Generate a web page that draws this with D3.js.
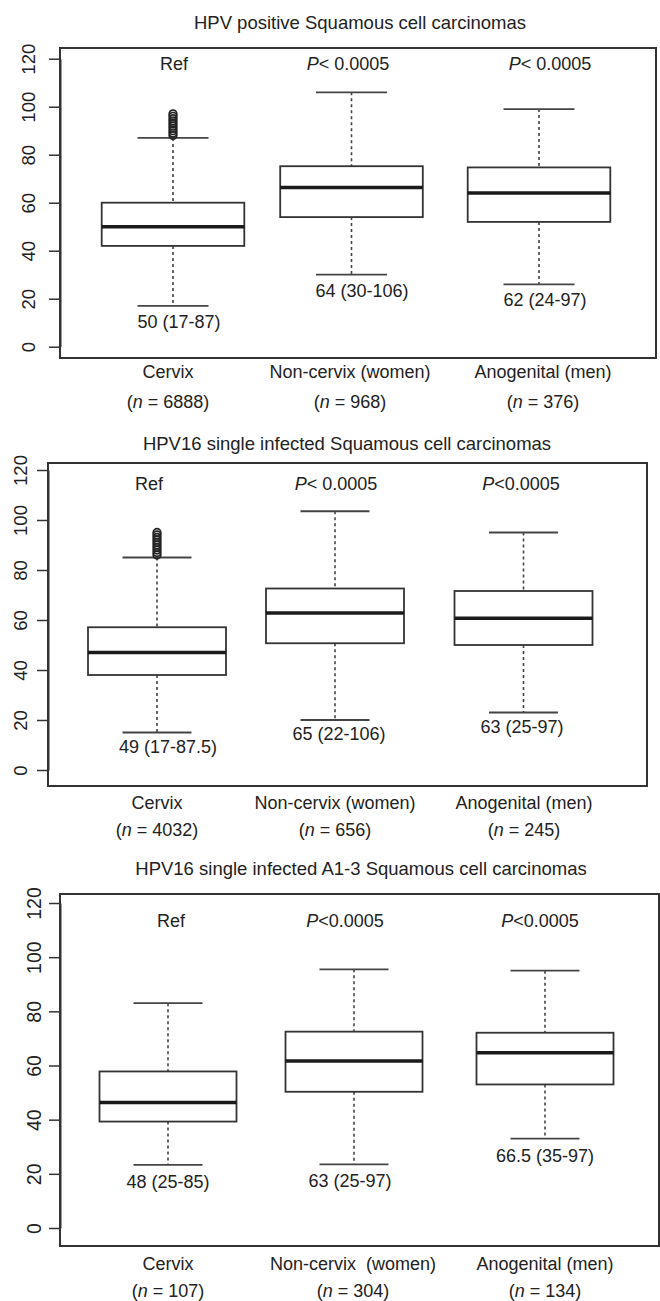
<!DOCTYPE html>
<html>
<head>
<meta charset="utf-8">
<script src="https://cdn.jsdelivr.net/npm/d3@7"></script>
<style>
  html, body { margin: 0; padding: 0; background: #fff; }
  svg text { font-family: "Liberation Sans", Arial, Helvetica, sans-serif; fill: #222; white-space: pre; }
</style>
</head>
<body>
<script>
// ---------------- DATA ----------------
const panelTitles = [
  "HPV positive Squamous cell carcinomas",
  "HPV16 single infected Squamous cell carcinomas",
  "HPV16 single infected A1-3 Squamous cell carcinomas"
];
const groupNames = [
  ["Cervix", "Non-cervix (women)", "Anogenital (men)"],
  ["Cervix", "Non-cervix (women)", "Anogenital (men)"],
  ["Cervix", "Non-cervix  (women)", "Anogenital (men)"]
];
const groupN = [
  ["6888", "968", "376"],
  ["4032", "656", "245"],
  ["107", "304", "134"]
];
const lowerWhisker = [[17, 30, 26], [15, 20, 23], [23.3, 23.5, 33]];
const q1           = [[42, 54, 52], [38, 50.7, 50], [39.3, 50.3, 53]];
const median       = [[50, 66.3, 64], [47, 62.8, 60.7], [46.3, 61.7, 64.7]];
const q3           = [[60, 75.2, 74.7], [57.1, 72.6, 71.6], [57.8, 72.5, 72.1]];
const upperWhisker = [[87, 106, 99], [85, 103.5, 95], [83, 95.5, 95]];
const outliers = [
  [[88, 89, 90, 91, 92, 93, 94, 95, 96, 97], [], []],
  [[86, 87, 88, 89, 90, 91, 92, 93, 94, 95], [], []],
  [[], [], []]
];
const medianLabels = [
  ["50 (17-87)", "64 (30-106)", "62 (24-97)"],
  ["49 (17-87.5)", "65 (22-106)", "63 (25-97)"],
  ["48 (25-85)", "63 (25-97)", "66.5 (35-97)"]
];
const pLabels = [
  ["Ref", "P< 0.0005", "P< 0.0005"],
  ["Ref", "P< 0.0005", "P<0.0005"],
  ["Ref", "P<0.0005", "P<0.0005"]
];
const yTicks = [0, 20, 40, 60, 80, 100, 120];

// ---------------- LAYOUT ----------------
const layout = [
  { left: 60, right: 656, top: 48, bottom: 358, y0: 346.7, y120: 58.7,
    xc: [173, 351.5, 539], boxHalf: 71.3, capHalf: 35.5, tickLab: 25, tickFs: 18.5,
    titleX: 360, titleY: 29, topX: [174, 348, 550], topY: 70,
    medX: [179, 362, 545], medDy: 22, catX: [168, 350, 543], catY1: 378, catY2: 408 },
  { left: 48, right: 647, top: 463, bottom: 786, y0: 770, y120: 470,
    xc: [157, 335, 523.5], boxHalf: 69, capHalf: 34.5, tickLab: 21.5, tickFs: 18.5,
    titleX: 347, titleY: 450, topX: [149, 336, 521], topY: 490,
    medX: [168, 339, 522], medDy: 20, catX: [157, 335, 524], catY1: 809, catY2: 836 },
  { left: 60, right: 659, top: 894, bottom: 1246, y0: 1228, y120: 903,
    xc: [168, 354, 545], boxHalf: 68.5, capHalf: 34.5, tickLab: 19, tickFs: 19.5,
    titleX: 361, titleY: 875, topX: [171, 345, 540], topY: 927,
    medX: [168, 350, 545], medDy: 23, catX: [168, 353, 545], catY1: 1270, catY2: 1297 }
];

const W = 660, H = 1301, FS = 18;
const svg = d3.select("body").append("svg").attr("width", W).attr("height", H);

function addItalicLead(sel, str) {
  const m = str.match(/^(P)(.*)$/);
  if (m) {
    sel.append("tspan").style("font-style", "italic").text(m[1]);
    sel.append("tspan").text(m[2]);
  } else sel.text(str);
}

layout.forEach((L, p) => {
  const g = svg.append("g");
  const y = d3.scaleLinear().domain([0, 120]).range([L.y0, L.y120]);
  const x = d3.scaleOrdinal().domain(groupNames[p]).range(L.xc);

  g.append("text").attr("x", L.titleX).attr("y", L.titleY)
    .attr("text-anchor", "middle").style("font-size", "18.5px").text(panelTitles[p]);

  g.append("rect").attr("x", L.left).attr("y", L.top)
    .attr("width", L.right - L.left).attr("height", L.bottom - L.top)
    .attr("fill", "none").attr("stroke", "#333").attr("stroke-width", 2);

  const ax = g.append("g").attr("transform", `translate(${L.left},0)`)
    .call(d3.axisLeft(y).tickValues(yTicks).tickSize(11).tickSizeOuter(0).tickFormat(d3.format("d")));
  ax.select(".domain").attr("stroke", "#333").attr("stroke-width", 2);
  ax.selectAll(".tick line").attr("stroke", "#333").attr("stroke-width", 1.5);
  ax.selectAll(".tick text")
    .attr("transform", "rotate(-90)")
    .attr("x", 0).attr("y", -L.tickLab).attr("dy", 0)
    .attr("text-anchor", "middle")
    .style("font-size", L.tickFs + "px").style("font-family", "Liberation Sans, Arial, sans-serif")
    .attr("fill", "#222");

  groupNames[p].forEach((name, i) => {
    const cx = x(name);
    g.append("line").attr("x1", cx).attr("x2", cx)
      .attr("y1", y(upperWhisker[p][i])).attr("y2", y(q3[p][i]))
      .attr("stroke", "#444").attr("stroke-width", 1.6).attr("stroke-dasharray", "3,3");
    g.append("line").attr("x1", cx).attr("x2", cx)
      .attr("y1", y(q1[p][i])).attr("y2", y(lowerWhisker[p][i]))
      .attr("stroke", "#444").attr("stroke-width", 1.6).attr("stroke-dasharray", "3,3");
    [upperWhisker[p][i], lowerWhisker[p][i]].forEach(v => {
      g.append("line").attr("x1", cx - L.capHalf).attr("x2", cx + L.capHalf)
        .attr("y1", y(v)).attr("y2", y(v))
        .attr("stroke", "#444").attr("stroke-width", 1.8);
    });
    g.append("rect").attr("x", cx - L.boxHalf).attr("y", y(q3[p][i]))
      .attr("width", 2 * L.boxHalf).attr("height", y(q1[p][i]) - y(q3[p][i]))
      .attr("fill", "#fff").attr("stroke", "#333").attr("stroke-width", 1.8);
    g.append("line").attr("x1", cx - L.boxHalf).attr("x2", cx + L.boxHalf)
      .attr("y1", y(median[p][i])).attr("y2", y(median[p][i]))
      .attr("stroke", "#1a1a1a").attr("stroke-width", 3.5);
    g.selectAll(null).data(outliers[p][i]).enter().append("circle")
      .attr("cx", cx).attr("cy", d => y(d)).attr("r", 3.8)
      .attr("fill", "none").attr("stroke", "#222").attr("stroke-width", 1.7);

    g.append("text").attr("x", L.medX[i]).attr("y", y(lowerWhisker[p][i]) + L.medDy)
      .attr("text-anchor", "middle").style("font-size", FS + "px").text(medianLabels[p][i]);
    const t = g.append("text").attr("x", L.topX[i]).attr("y", L.topY)
      .attr("text-anchor", "middle").style("font-size", FS + "px");
    addItalicLead(t, pLabels[p][i]);
    g.append("text").attr("x", L.catX[i]).attr("y", L.catY1)
      .attr("text-anchor", "middle").style("font-size", FS + "px").text(name);
    const n = g.append("text").attr("x", L.catX[i]).attr("y", L.catY2)
      .attr("text-anchor", "middle").style("font-size", FS + "px");
    n.append("tspan").text("(");
    n.append("tspan").style("font-style", "italic").text("n");
    n.append("tspan").text(" = " + groupN[p][i] + ")");
  });
});
</script>
</body>
</html>
